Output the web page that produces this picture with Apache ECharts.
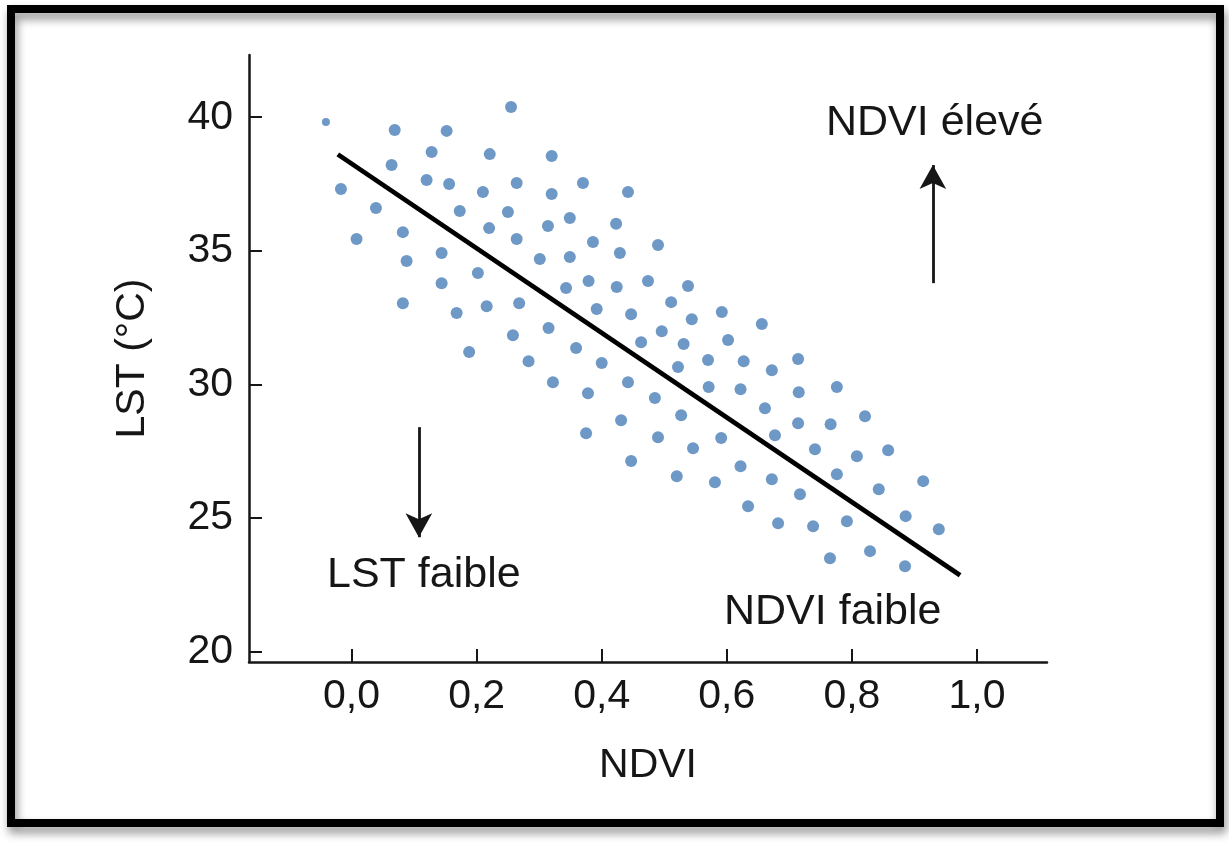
<!DOCTYPE html>
<html>
<head>
<meta charset="utf-8">
<script src="https://cdn.jsdelivr.net/npm/echarts@6/dist/echarts.min.js"></script>
<style>
html,body{margin:0;padding:0;background:#fff;}
#c{width:1229px;height:843px;}
</style>
</head>
<body>
<div id="c"></div>
<script>
// ---- data ----
const ndvi = [
  -0.041, 0.069, 0.152, 0.255, 0.128, 0.221, 0.064, -0.017, 0.120, 0.156,
  0.210, 0.264, 0.039, 0.173, 0.250, 0.082, 0.220, 0.264, 0.008, 0.144,
  0.088, 0.202, 0.144, 0.301, 0.082, 0.168, 0.216, 0.268, 0.258, 0.188,
  0.320, 0.370, 0.320, 0.442, 0.349, 0.314, 0.423, 0.386, 0.490, 0.349,
  0.429, 0.379, 0.474, 0.343, 0.424, 0.538, 0.511, 0.392, 0.447, 0.544,
  0.592, 0.656, 0.315, 0.496, 0.463, 0.531, 0.602, 0.359,
  0.283, 0.400, 0.322, 0.378, 0.442, 0.431, 0.375, 0.447,
  0.522, 0.570, 0.627, 0.672, 0.714, 0.485, 0.571, 0.622, 0.715, 0.776,
  0.527, 0.661, 0.714, 0.766, 0.821, 0.490, 0.591, 0.677, 0.546, 0.741,
  0.808, 0.858, 0.520, 0.581, 0.622, 0.672, 0.776, 0.914, 0.717, 0.843,
  0.634, 0.682, 0.738, 0.792, 0.886, 0.939, 0.765, 0.829, 0.885
];
const lst = [
  39.82, 39.52, 39.49, 40.38, 38.70, 38.62, 38.21, 37.31, 37.65, 37.50,
  37.20, 37.54, 36.60, 36.49, 36.45, 35.70, 35.85, 35.44, 35.44, 34.92,
  34.62, 34.17, 33.79, 34.69, 33.04, 32.67, 32.93, 33.04, 31.84, 31.21,
  38.55, 37.54, 37.13, 37.20, 36.23, 35.93, 36.01, 35.33, 35.22, 34.77,
  34.92, 33.87, 33.87, 33.61, 33.65, 33.68, 33.08, 32.82, 32.63, 32.44,
  32.71, 32.26, 32.11, 31.99, 31.58, 31.51, 31.66, 31.36,
  30.87, 30.80, 30.08, 29.67, 30.08, 28.66, 28.17, 27.13,
  30.65, 30.91, 30.87, 30.53, 30.95, 29.49, 29.90, 29.82, 29.71, 29.90,
  28.85, 29.11, 28.55, 28.51, 28.81, 28.02, 27.99, 28.10, 27.61, 27.57,
  27.31, 27.54, 26.56, 26.34, 26.94, 26.45, 26.64, 26.38, 25.89, 26.08,
  25.44, 24.80, 24.69, 24.88, 25.07, 24.58, 23.49, 23.76, 23.19
];
const fitNdvi = [-0.022, 0.973];
const fitLst = [38.61, 22.86];
const xTicks = [0, 0.2, 0.4, 0.6, 0.8, 1.0];
const yTicks = [20, 25, 30, 35, 40];
const xTitle = 'NDVI';
const yTitle = 'LST (°C)';
const notes = ['NDVI élevé', 'LST faible', 'NDVI faible'];
// arrows in data coordinates: [ndvi, lstFrom, lstTo]
const arrowUp = [0.9295, 33.79, 38.21];
const arrowDown = [0.1076, 28.40, 24.28];

// ---- chart ----
const FONT = "'Liberation Sans', Arial, Helvetica, sans-serif";
const INK = '#161616';
const chart = echarts.init(document.getElementById('c'), null, {renderer: 'canvas'});

const points = ndvi.map((x, i) => [x, lst[i]]);
const fit = fitNdvi.map((x, i) => [x, fitLst[i]]);

const option = {
  animation: false,
  backgroundColor: '#ffffff',
  grid: {left: 249, top: 55, right: 182, bottom: 181, containLabel: false},
  xAxis: {
    type: 'value', min: -0.164, max: 1.112,
    name: xTitle, nameLocation: 'middle', nameGap: 83,
    nameTextStyle: {fontSize: 41, color: INK, fontFamily: FONT},
    axisLine: {onZero: false, lineStyle: {color: INK, width: 2.5}},
    axisTick: {inside: true, length: 13, customValues: xTicks, lineStyle: {color: INK, width: 2}},
    axisLabel: {customValues: xTicks, formatter: v => v.toFixed(1).replace('.', ','),
      fontSize: 41, color: INK, margin: 14, fontFamily: FONT},
    splitLine: {show: false}
  },
  yAxis: {
    type: 'value', min: 19.61, max: 42.33,
    name: yTitle, nameLocation: 'middle', nameGap: 96, nameRotate: 90,
    nameTextStyle: {fontSize: 41, color: INK, fontFamily: FONT},
    axisLine: {onZero: false, lineStyle: {color: INK, width: 2.5}},
    axisTick: {inside: true, length: 13, customValues: yTicks, lineStyle: {color: INK, width: 2}},
    axisLabel: {customValues: yTicks, formatter: v => String(Math.round(v)),
      fontSize: 41, color: INK, margin: 16, fontFamily: FONT},
    splitLine: {show: false}
  },
  series: [
    {
      type: 'scatter',
      data: points,
      symbol: 'circle',
      symbolSize: (v, p) => (p.dataIndex === 0 ? 8 : 12),
      itemStyle: {color: '#4a7eb6'},
      z: 2
    },
    {
      type: 'line',
      data: fit,
      symbol: 'none',
      lineStyle: {color: '#000', width: 4.8},
      z: 3,
      markLine: {
        silent: true,
        symbol: ['none', 'arrow'],
        symbolSize: [20, 24],
        label: {show: false},
        lineStyle: {color: INK, width: 2.8, type: 'solid'},
        data: [
          [{coord: [arrowUp[0], arrowUp[1]]}, {coord: [arrowUp[0], arrowUp[2]]}],
          [{coord: [arrowDown[0], arrowDown[1]]}, {coord: [arrowDown[0], arrowDown[2]]}]
        ]
      }
    }
  ],
  graphic: [
    {type: 'text', x: 826, y: 123, style: {text: notes[0], fontSize: 43, fontFamily: FONT, fill: INK, align: 'left', verticalAlign: 'middle'}},
    {type: 'text', x: 327, y: 575, style: {text: notes[1], fontSize: 43, fontFamily: FONT, fill: INK, align: 'left', verticalAlign: 'middle'}},
    {type: 'text', x: 724, y: 612, style: {text: notes[2], fontSize: 43, fontFamily: FONT, fill: INK, align: 'left', verticalAlign: 'middle'}},
    {type: 'rect', shape: {x: 11, y: 9, width: 1209, height: 814},
      style: {fill: 'none', stroke: '#000', lineWidth: 8,
        shadowColor: 'rgba(0,0,0,0.45)', shadowBlur: 10, shadowOffsetX: 2, shadowOffsetY: 6},
      silent: true}
  ]
};
chart.setOption(option);
</script>
</body>
</html>
